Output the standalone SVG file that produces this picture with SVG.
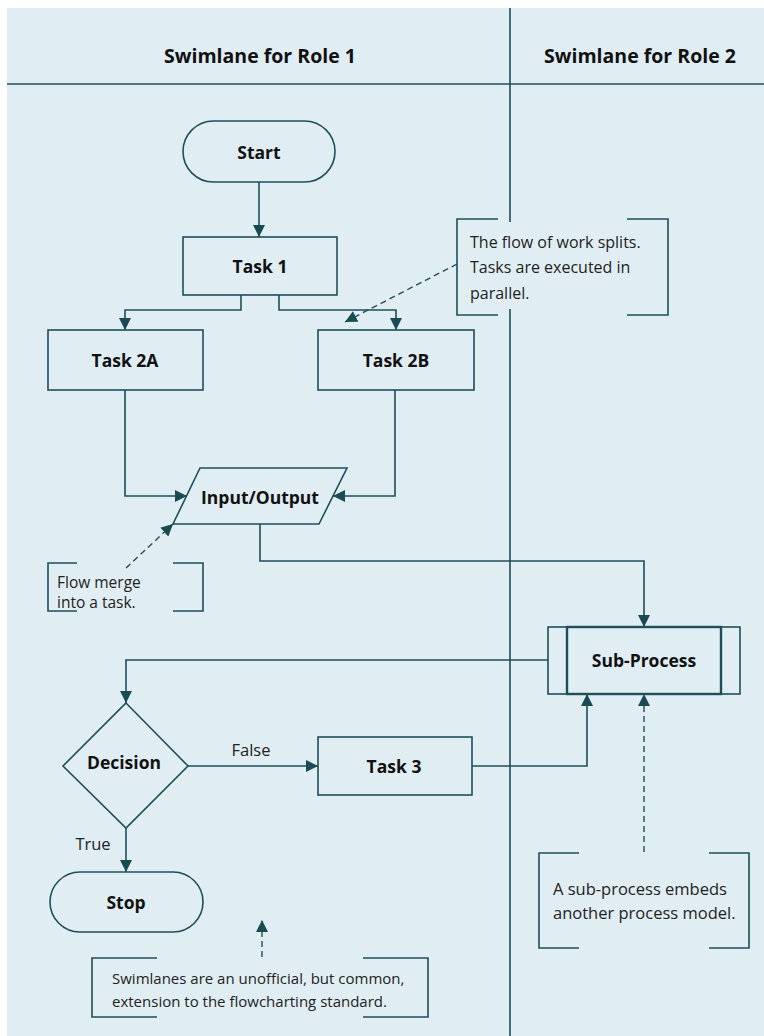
<svg xmlns="http://www.w3.org/2000/svg" width="764" height="1036" viewBox="0 0 764 1036">
<defs>
<style>
.bg{fill:#e0eef4}
.shape{fill:#e0eef4;stroke:#1e4f58;stroke-width:1.6}
.thick{fill:none;stroke:#1e4f58;stroke-width:2.4}
.line{fill:none;stroke:#1e4f58;stroke-width:1.6}
.dash{fill:none;stroke:#1e4f58;stroke-width:1.4;stroke-dasharray:6,4}
.lbl{font-family:"Open Sans","Noto Sans",sans-serif;font-weight:bold;font-size:17.5px;fill:#111;text-anchor:middle;dominant-baseline:central}
.hdr{font-family:"Open Sans","Noto Sans",sans-serif;font-weight:bold;font-size:19.5px;fill:#111;text-anchor:middle;dominant-baseline:central}
.note{font-family:"Open Sans","Noto Sans",sans-serif;font-size:16.5px;fill:#222;dominant-baseline:central}
.mid{font-size:16px}
.small{font-size:15px}
.merge{font-size:15.5px}
.lane{stroke:#1e4f58;stroke-width:1.6}
</style>
<marker id="ah" viewBox="0 0 12 12" refX="12" refY="6" markerWidth="12" markerHeight="12" markerUnits="userSpaceOnUse" orient="auto">
<path d="M0,0 L12,6 L0,12 Z" fill="#1a4a52"/>
</marker>
</defs>
<rect x="0" y="0" width="764" height="1036" fill="#ffffff"/>
<rect class="bg" x="7" y="8" width="757" height="1028"/>
<g id="lanes">
<line class="lane" x1="7" y1="84" x2="764" y2="84"/>
<line class="lane" x1="510" y1="8" x2="510" y2="1036"/>
<text class="hdr" x="260" y="55">Swimlane for Role 1</text>
<text class="hdr" x="640" y="55">Swimlane for Role 2</text>
</g>
<g id="connectors">
<path class="line" d="M259,182 V237" marker-end="url(#ah)"/>
<path class="line" d="M241,295 V310 H125 V330" marker-end="url(#ah)"/>
<path class="line" d="M279,295 V310 H396 V330" marker-end="url(#ah)"/>
<path class="line" d="M125,390 V496 H187" marker-end="url(#ah)"/>
<path class="line" d="M395,390 V496 H333" marker-end="url(#ah)"/>
<path class="line" d="M260,524 V561 H644 V627" marker-end="url(#ah)"/>
<path class="line" d="M548,660 H126 V703" marker-end="url(#ah)"/>
<path class="line" d="M188,766 H318" marker-end="url(#ah)"/>
<path class="line" d="M126,828 V872" marker-end="url(#ah)"/>
<path class="line" d="M472,766 H587 V694" marker-end="url(#ah)"/>
<text class="note" x="251" y="749" text-anchor="middle">False</text>
<text class="note" x="93" y="843" text-anchor="middle">True</text>
<path class="dash" d="M457,264 L345,322" marker-end="url(#ah)"/>
<path class="dash" d="M126,568 L173,524" marker-end="url(#ah)"/>
<path class="dash" d="M644,852 V694" marker-end="url(#ah)"/>
<path class="dash" d="M262,957 V920" marker-end="url(#ah)"/>
</g>
<g id="start">
<rect class="shape" x="183" y="121" width="152" height="61" rx="30.5"/>
<text class="lbl" x="259" y="152">Start</text>
</g>
<g id="task1">
<rect class="shape" x="183" y="237" width="154" height="58"/>
<text class="lbl" x="260" y="266">Task 1</text>
</g>
<g id="task2a">
<rect class="shape" x="48" y="330" width="155" height="60"/>
<text class="lbl" x="125" y="360">Task 2A</text>
</g>
<g id="task2b">
<rect class="shape" x="318" y="330" width="156" height="60"/>
<text class="lbl" x="396" y="360">Task 2B</text>
</g>
<g id="io">
<path class="shape" d="M200,468 H347 L319,524 H173 Z"/>
<text class="lbl" x="260" y="497">Input/Output</text>
</g>
<g id="subprocess">
<rect class="shape" x="548" y="627" width="192" height="67"/>
<rect class="thick" x="567" y="627" width="154" height="67"/>
<text class="lbl" x="644" y="660">Sub-Process</text>
</g>
<g id="decision">
<path class="shape" d="M126,703 L188,766 L126,828 L63,766 Z"/>
<text class="lbl" x="124" y="762">Decision</text>
</g>
<g id="task3">
<rect class="shape" x="318" y="737" width="154" height="58"/>
<text class="lbl" x="394" y="766">Task 3</text>
</g>
<g id="stop">
<rect class="shape" x="50" y="872" width="153" height="60" rx="30"/>
<text class="lbl" x="126" y="902">Stop</text>
</g>
<g id="note-split">
<rect class="bg" x="460" y="222" width="206" height="87"/>
<path class="line" d="M498,219 H457 V315 H498 M627,219 H668 V315 H627"/>
<text class="note mid" x="470" y="242">The flow of work splits.</text>
<text class="note mid" x="470" y="267">Tasks are executed in</text>
<text class="note mid" x="470" y="293">parallel.</text>
</g>
<g id="note-merge">
<path class="line" d="M77,563 H48 V611 H77 M173,563 H203 V611 H173"/>
<text class="note merge" x="57" y="582">Flow merge</text>
<text class="note merge" x="57" y="602">into a task.</text>
</g>
<g id="note-sub">
<path class="line" d="M579,853 H539 V948 H579 M709,853 H749 V948 H709"/>
<text class="note" x="553" y="888">A sub-process embeds</text>
<text class="note" x="553" y="912">another process model.</text>
</g>
<g id="note-swim">
<path class="line" d="M157,958 H92 V1017 H157 M363,958 H428 V1017 H363"/>
<text class="note small" x="112" y="978">Swimlanes are an unofficial, but common,</text>
<text class="note small" x="112" y="1001">extension to the flowcharting standard.</text>
</g>
</svg>
